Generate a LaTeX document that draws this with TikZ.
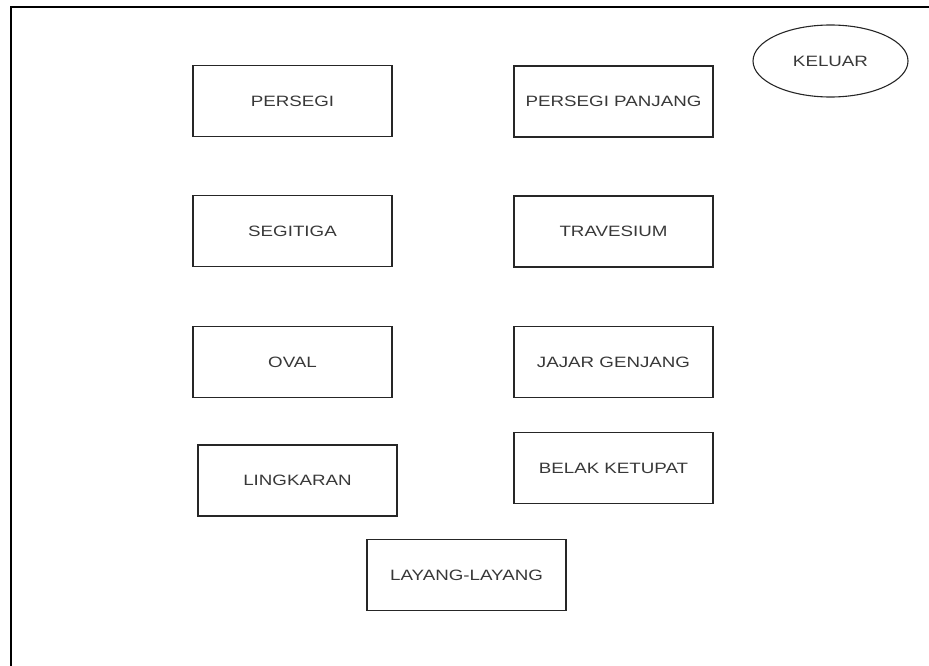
\documentclass[tikz,border=0pt]{standalone}
\usepackage{fontspec}
\setmainfont{Liberation Sans}[FakeStretch=1.25]
\usetikzlibrary{shapes.geometric}

\begin{document}
\begin{tikzpicture}[
    x=1pt, y=-1pt,
    menubox/.style={
      rectangle,
      draw=black!85,
      line width=1.1pt,
      minimum width=199pt,
      minimum height=71pt,
      inner sep=0pt,
      text=black!78,
      font=\fontsize{15}{18}\selectfont
    }
  ]
  \useasboundingbox (0, 0) rectangle (929, 666);

  % frame of the window
  \draw[line width=1.5pt] (11, 666) -- (11, 7) -- (929, 7);

  \node[menubox] (persegi) at (292.5, 101) {PERSEGI};
  \node[menubox] (panjang) at (613.5, 101.5) {PERSEGI PANJANG};

  \node[menubox] (segitiga) at (292.5, 231) {SEGITIGA};
  \node[menubox] (travesium) at (613.5, 231.5) {TRAVESIUM};

  \node[menubox] (oval) at (292.5, 362) {OVAL};
  \node[menubox] (jajar) at (613.5, 362) {JAJAR GENJANG};

  \node[menubox] (lingkaran) at (297.5, 480.5) {LINGKARAN};
  \node[menubox] (ketupat) at (613.5, 468) {BELAK KETUPAT};

  \node[menubox] (layang) at (466.5, 575) {LAYANG-LAYANG};

  \node[
    ellipse,
    draw=black!85,
    line width=1.1pt,
    minimum width=155pt,
    minimum height=72pt,
    inner sep=0pt,
    text=black!78,
    font=\fontsize{15}{18}\selectfont
  ] (keluar) at (830.5, 61) {KELUAR};

\end{tikzpicture}
\end{document}
